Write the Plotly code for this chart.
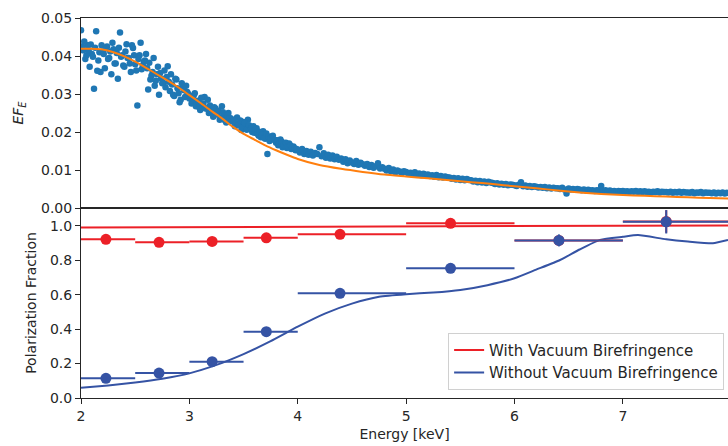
import numpy as np
import plotly.graph_objects as go
from plotly.subplots import make_subplots

# ---- top panel: spectrum E*F_E ----
spec_energy = np.round(2.0 + 0.02 * np.arange(300), 2)  # bin centres, keV
spec_flux = [
    0.0468, 0.0415, 0.0392, 0.0428, 0.0372, 0.0405, 0.0314, 0.0465, 0.0388, 0.0358,
    0.0412, 0.0368, 0.0425, 0.0395, 0.0352, 0.0418, 0.0380, 0.0340, 0.0462, 0.0402,
    0.0372, 0.0431, 0.0395, 0.0358, 0.0421, 0.0378, 0.0270, 0.0402, 0.0365, 0.0385,
    0.0405, 0.0312, 0.0338, 0.0358, 0.0322, 0.0352, 0.0298, 0.0341, 0.0329, 0.0318,
    0.0373, 0.0308, 0.0325, 0.0295, 0.0338, 0.0302, 0.0285, 0.0318, 0.0292, 0.0305,
    0.0288, 0.0275, 0.0296, 0.0268, 0.0282, 0.0258, 0.0272, 0.0292, 0.0262, 0.0250,
    0.0255, 0.0240, 0.0262, 0.0248, 0.0232, 0.0268, 0.0244, 0.0225, 0.0250, 0.0236,
    0.0228, 0.0215, 0.0238, 0.0220, 0.0205, 0.0226, 0.0212, 0.0232, 0.0208, 0.0200,
    0.0198, 0.0210, 0.0190, 0.0186, 0.0202, 0.0182, 0.0142, 0.0176, 0.0188, 0.0180,
    0.0172, 0.0165, 0.0180, 0.0160, 0.0168, 0.0158, 0.0170, 0.0155, 0.0162, 0.0152,
    0.0152, 0.0146, 0.0155, 0.0142, 0.0150, 0.0140, 0.0148, 0.0138, 0.0145, 0.0142,
    0.0160, 0.0136, 0.0144, 0.0132, 0.0140, 0.0130, 0.0138, 0.0128, 0.0135, 0.0127,
    0.0130, 0.0122, 0.0128, 0.0118, 0.0125, 0.0120, 0.0116, 0.0124, 0.0114, 0.0119,
    0.0115, 0.0111, 0.0116, 0.0108, 0.0113, 0.0106, 0.0110, 0.0118, 0.0104, 0.0107,
    0.0103, 0.0099, 0.0105, 0.0097, 0.0101, 0.0094, 0.0099, 0.0096, 0.0092, 0.0097,
    0.0095, 0.0091, 0.0093, 0.0088, 0.0094, 0.0089, 0.0091, 0.0086, 0.0090, 0.0087,
    0.0088, 0.0084, 0.0086, 0.0082, 0.0087, 0.0081, 0.0084, 0.0080, 0.0083, 0.0081,
    0.0080, 0.0077, 0.0079, 0.0075, 0.0078, 0.0074, 0.0077, 0.0073, 0.0076, 0.0074,
    0.0073, 0.0070, 0.0072, 0.0068, 0.0071, 0.0067, 0.0070, 0.0066, 0.0069, 0.0067,
    0.0066, 0.0063, 0.0065, 0.0062, 0.0064, 0.0061, 0.0063, 0.0060, 0.0062, 0.0061,
    0.0060, 0.0058, 0.0061, 0.0068, 0.0057, 0.0059, 0.0056, 0.0058, 0.0055, 0.0057,
    0.0056, 0.0054, 0.0055, 0.0053, 0.0055, 0.0052, 0.0054, 0.0051, 0.0053, 0.0052,
    0.0052, 0.0050, 0.0053, 0.0049, 0.0038, 0.0051, 0.0049, 0.0050, 0.0048, 0.0050,
    0.0049, 0.0047, 0.0049, 0.0046, 0.0048, 0.0046, 0.0047, 0.0045, 0.0047, 0.0046,
    0.0058, 0.0045, 0.0047, 0.0044, 0.0046, 0.0044, 0.0045, 0.0043, 0.0045, 0.0044,
    0.0045, 0.0043, 0.0044, 0.0042, 0.0044, 0.0043, 0.0045, 0.0042, 0.0044, 0.0042,
    0.0044, 0.0042, 0.0043, 0.0041, 0.0043, 0.0042, 0.0044, 0.0041, 0.0043, 0.0042,
    0.0042, 0.0041, 0.0043, 0.0040, 0.0042, 0.0041, 0.0043, 0.0040, 0.0042, 0.0041,
    0.0041, 0.0040, 0.0042, 0.0039, 0.0041, 0.0040, 0.0042, 0.0039, 0.0041, 0.0040,
    0.0040, 0.0039, 0.0041, 0.0038, 0.0040, 0.0039, 0.0041, 0.0038, 0.0040, 0.0039,
]
# finer sampling of the bright low-energy part (2.01 ... 3.99 keV)
spec_energy_fine = np.round(2.01 + 0.02 * np.arange(100), 2)
spec_flux_fine = [
    0.0425, 0.0438, 0.0402, 0.0415, 0.0430, 0.0398, 0.0422, 0.0361, 0.0410, 0.0428,
    0.0405, 0.0420, 0.0392, 0.0412, 0.0435, 0.0380, 0.0408, 0.0422, 0.0398, 0.0375,
    0.0412, 0.0395, 0.0380, 0.0428, 0.0402, 0.0362, 0.0392, 0.0435, 0.0375, 0.0388,
    0.0368, 0.0382, 0.0348, 0.0395, 0.0335, 0.0372, 0.0355, 0.0328, 0.0362, 0.0345,
    0.0332, 0.0352, 0.0298, 0.0340, 0.0315, 0.0278, 0.0328, 0.0310, 0.0322, 0.0300,
    0.0295, 0.0282, 0.0302, 0.0278, 0.0265, 0.0290, 0.0275, 0.0262, 0.0285, 0.0270,
    0.0258, 0.0265, 0.0246, 0.0256, 0.0238, 0.0252, 0.0230, 0.0245, 0.0236, 0.0228,
    0.0232, 0.0222, 0.0218, 0.0230, 0.0212, 0.0224, 0.0206, 0.0218, 0.0210, 0.0215,
    0.0205, 0.0195, 0.0200, 0.0192, 0.0185, 0.0196, 0.0188, 0.0182, 0.0190, 0.0178,
    0.0178, 0.0170, 0.0175, 0.0166, 0.0172, 0.0162, 0.0165, 0.0160, 0.0157, 0.0155,
]

model_energy = [2.0, 2.1, 2.2, 2.3, 2.4, 2.5, 2.6, 2.7, 2.8, 2.9, 3.0, 3.1, 3.2, 3.3,
                3.4, 3.5, 3.6, 3.7, 3.8, 3.9, 4.0, 4.2, 4.4, 4.6, 4.8, 5.0, 5.2, 5.4,
                5.6, 5.8, 6.0, 6.2, 6.4, 6.6, 6.8, 7.0, 7.2, 7.4, 7.6, 7.8, 8.0]
model_flux = [0.0419, 0.0419, 0.0417, 0.0410, 0.0399, 0.0385, 0.0369, 0.0352, 0.0335,
              0.0317, 0.0297, 0.0277, 0.0256, 0.0236, 0.0214, 0.0195, 0.0180, 0.0165,
              0.0152, 0.0140, 0.0129, 0.0113, 0.0103, 0.0095, 0.0088, 0.0083, 0.0078,
              0.0073, 0.0068, 0.0063, 0.0057, 0.0052, 0.0046, 0.0041, 0.0037, 0.0034,
              0.0032, 0.0030, 0.0028, 0.0026, 0.0025]

# ---- bottom panel: polarization fraction ----
bin_lo = [2.0, 2.5, 3.0, 3.5, 4.0, 5.0, 6.0, 7.0]
bin_hi = [2.5, 3.0, 3.5, 4.0, 5.0, 6.0, 7.0, 8.0]
pf_energy = [2.23, 2.72, 3.21, 3.71, 4.39, 5.41, 6.41, 7.40]
pf_with = [0.921, 0.904, 0.909, 0.930, 0.950, 1.014, 0.915, 1.025]
pf_with_err = [0.005, 0.005, 0.005, 0.005, 0.008, 0.010, 0.030, 0.065]
pf_without = [0.114, 0.145, 0.211, 0.385, 0.608, 0.753, 0.915, 1.023]
pf_without_err = [0.005, 0.005, 0.008, 0.010, 0.012, 0.015, 0.035, 0.068]

curve_with_energy = [2.0, 3.0, 4.0, 5.0, 6.0, 7.0, 8.0]
curve_with = [0.990, 0.992, 0.995, 0.998, 1.000, 1.001, 1.002]
curve_without_energy = [2.0, 2.25, 2.5, 2.75, 3.0, 3.25, 3.5, 3.75, 4.0, 4.25, 4.5,
                        4.75, 5.0, 5.25, 5.5, 5.75, 6.0, 6.2, 6.42, 6.6, 6.79, 7.0,
                        7.14, 7.4, 7.6, 7.83, 7.97]
curve_without = [0.060, 0.073, 0.090, 0.112, 0.143, 0.192, 0.255, 0.330, 0.414, 0.490,
                 0.548, 0.588, 0.603, 0.612, 0.627, 0.655, 0.695, 0.745, 0.801, 0.862,
                 0.918, 0.936, 0.946, 0.921, 0.908, 0.898, 0.917]

RED = "#ec2027"
BLUE = "#3553a4"
INK = "#262626"
FONT = "DejaVu Sans"

fig = make_subplots(rows=2, cols=1, shared_xaxes=True, vertical_spacing=0)

fig.add_trace(go.Scatter(x=np.concatenate([spec_energy, spec_energy_fine]),
                         y=spec_flux + spec_flux_fine, mode="markers",
                         marker=dict(color="#1f77b4", size=6.5, line=dict(width=0)),
                         showlegend=False), row=1, col=1)
fig.add_trace(go.Scatter(x=model_energy, y=model_flux, mode="lines",
                         line=dict(color="#ff7f0e", width=2, shape="spline", smoothing=0.6),
                         showlegend=False), row=1, col=1)

fig.add_trace(go.Scatter(x=curve_with_energy, y=curve_with, mode="lines",
                         line=dict(color=RED, width=2),
                         name="With Vacuum Birefringence"), row=2, col=1)
fig.add_trace(go.Scatter(x=curve_without_energy, y=curve_without, mode="lines",
                         line=dict(color=BLUE, width=2, shape="spline", smoothing=0.5),
                         name="Without Vacuum Birefringence"), row=2, col=1)


def binned(values, errs, color):
    minus = [e - lo for e, lo in zip(pf_energy, bin_lo)]
    plus = [hi - e for e, hi in zip(pf_energy, bin_hi)]
    return go.Scatter(
        x=pf_energy, y=values, mode="markers",
        marker=dict(color=color, size=11, line=dict(width=0)),
        error_x=dict(type="data", symmetric=False, array=plus, arrayminus=minus,
                     color=color, thickness=2, width=0),
        error_y=dict(type="data", array=errs, color=color, thickness=2, width=0),
        showlegend=False)


fig.add_trace(binned(pf_with, pf_with_err, RED), row=2, col=1)
fig.add_trace(binned(pf_without, pf_without_err, BLUE), row=2, col=1)

axis_common = dict(showline=True, linecolor=INK, linewidth=1, showgrid=False,
                   zeroline=False, ticks="outside", ticklen=5, tickwidth=1,
                   tickcolor=INK, tickfont=dict(family=FONT, size=14, color=INK))

fig.update_xaxes(**axis_common, range=[2, 7.97], mirror=True, dtick=1)
fig.update_xaxes(showticklabels=False, ticks="", row=1, col=1)
fig.update_xaxes(title=dict(text="Energy [keV]", font=dict(family=FONT, size=14, color=INK),
                            standoff=6), row=2, col=1)

fig.update_yaxes(**axis_common)
fig.update_yaxes(range=[0, 0.05], dtick=0.01, tickformat=".2f",
                 title=dict(text="<i>EF</i><sub><i>E</i></sub>",
                            font=dict(family=FONT, size=14, color=INK), standoff=14),
                 row=1, col=1)
fig.update_yaxes(range=[0, 1.103], dtick=0.2, tickformat=".1f",
                 title=dict(text="Polarization Fraction",
                            font=dict(family=FONT, size=14, color=INK), standoff=10),
                 row=2, col=1)

fig.update_layout(
    width=728, height=446,
    margin=dict(l=81, r=0, t=18, b=48),
    paper_bgcolor="white", plot_bgcolor="white",
    font=dict(family=FONT, size=14, color=INK),
    legend=dict(x=0.994, xanchor="right", y=0.022, yanchor="bottom",
                bgcolor="rgba(255,255,255,0.85)", bordercolor="#d0d0d0", borderwidth=1,
                font=dict(family=FONT, size=15, color=INK)),
)

fig.write_html("out.html")
